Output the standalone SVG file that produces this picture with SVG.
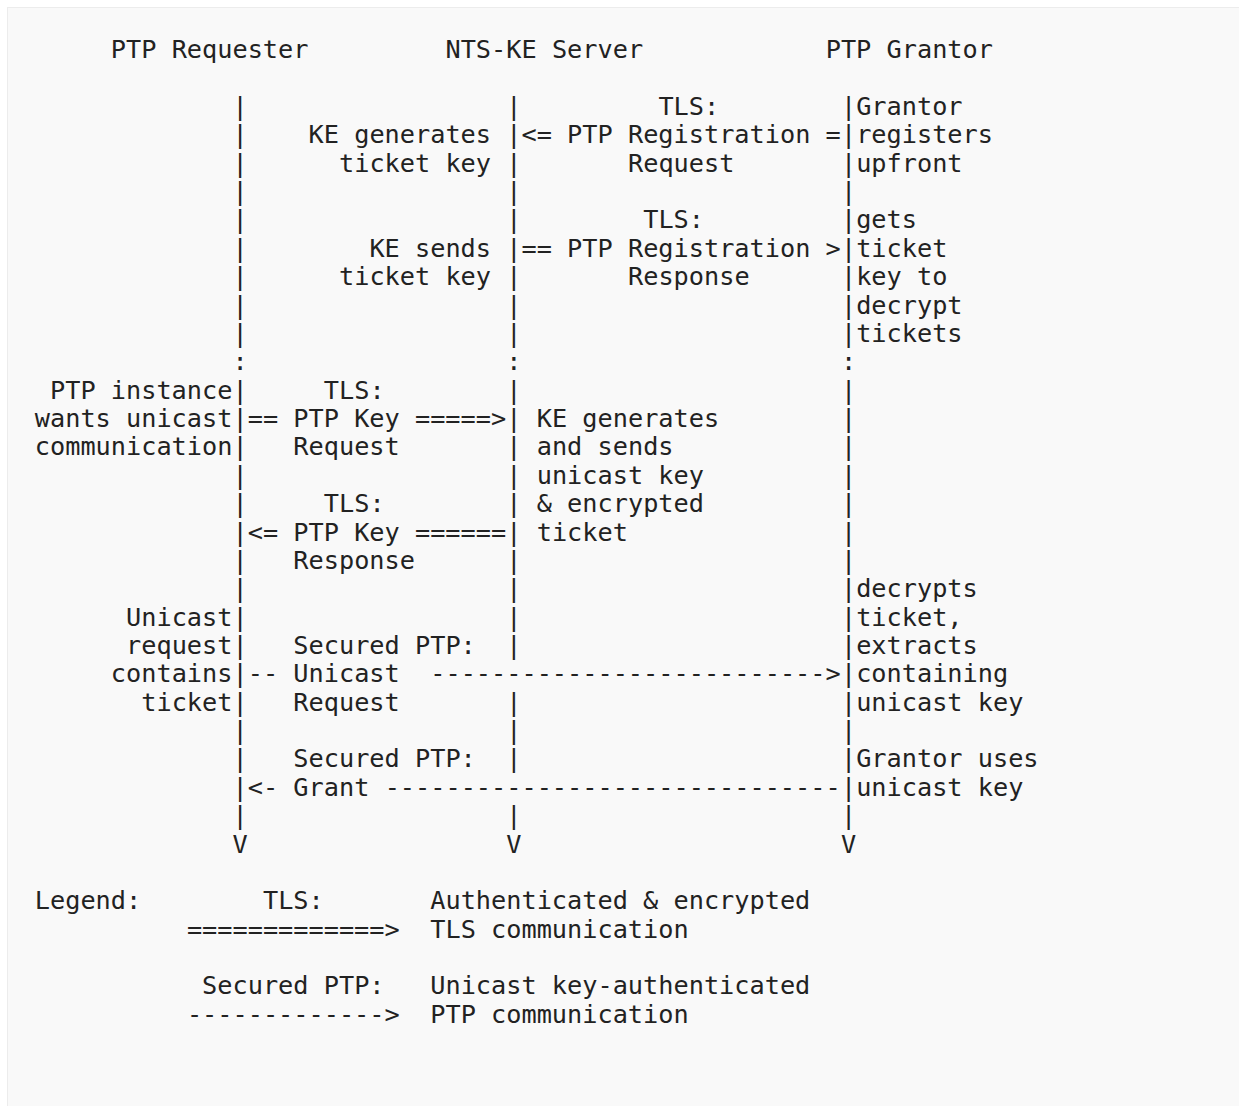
<svg xmlns="http://www.w3.org/2000/svg" width="1239" height="1106" viewBox="0 0 1239 1106">
<style>
text{font-family:"DejaVu Sans Mono","Liberation Mono",monospace;font-size:25.26px;fill:#222;}
</style>
<rect x="0" y="0" width="1239" height="1106" fill="#ffffff"/>
<rect x="7.5" y="7.5" width="1250" height="1120" fill="#f9f9f9" stroke="#ececec" stroke-width="1"/>

<g id="requester">
<text x="110.85" y="58.3">PTP Requester</text>
<text><tspan x="232.53" y="115.03">|</tspan><tspan x="232.53" y="143.40">|</tspan><tspan x="232.53" y="171.76">|</tspan><tspan x="232.53" y="200.13">|</tspan><tspan x="232.53" y="228.49">|</tspan><tspan x="232.53" y="256.86">|</tspan><tspan x="232.53" y="285.22">|</tspan><tspan x="232.53" y="313.59">|</tspan><tspan x="232.53" y="341.95">|</tspan><tspan x="232.53" y="370.32">:</tspan><tspan x="232.53" y="398.68">|</tspan><tspan x="232.53" y="427.05">|</tspan><tspan x="232.53" y="455.41">|</tspan><tspan x="232.53" y="483.78">|</tspan><tspan x="232.53" y="512.14">|</tspan><tspan x="232.53" y="540.51">|</tspan><tspan x="232.53" y="568.87">|</tspan><tspan x="232.53" y="597.24">|</tspan><tspan x="232.53" y="625.60">|</tspan><tspan x="232.53" y="653.97">|</tspan><tspan x="232.53" y="682.33">|</tspan><tspan x="232.53" y="710.70">|</tspan><tspan x="232.53" y="739.06">|</tspan><tspan x="232.53" y="767.43">|</tspan><tspan x="232.53" y="795.79">|</tspan><tspan x="232.53" y="824.16">|</tspan><tspan x="232.53" y="852.52">V</tspan></text>
<text x="50.01" y="398.68">PTP instance</text>
<text x="34.8" y="427.05">wants unicast</text>
<text x="34.8" y="455.41">communication</text>
<text x="126.06" y="625.60">Unicast</text>
<text x="126.06" y="653.97">request</text>
<text x="110.85" y="682.33">contains</text>
<text x="141.27" y="710.70">ticket</text>
</g>

<g id="server">
<text x="445.47" y="58.3">NTS-KE Server</text>
<text><tspan x="506.31" y="115.03">|</tspan><tspan x="506.31" y="143.40">|</tspan><tspan x="506.31" y="171.76">|</tspan><tspan x="506.31" y="200.13">|</tspan><tspan x="506.31" y="228.49">|</tspan><tspan x="506.31" y="256.86">|</tspan><tspan x="506.31" y="285.22">|</tspan><tspan x="506.31" y="313.59">|</tspan><tspan x="506.31" y="341.95">|</tspan><tspan x="506.31" y="370.32">:</tspan><tspan x="506.31" y="398.68">|</tspan><tspan x="506.31" y="427.05">|</tspan><tspan x="506.31" y="455.41">|</tspan><tspan x="506.31" y="483.78">|</tspan><tspan x="506.31" y="512.14">|</tspan><tspan x="506.31" y="540.51">|</tspan><tspan x="506.31" y="568.87">|</tspan><tspan x="506.31" y="597.24">|</tspan><tspan x="506.31" y="625.60">|</tspan><tspan x="506.31" y="653.97">|</tspan><tspan x="506.31" y="710.70">|</tspan><tspan x="506.31" y="739.06">|</tspan><tspan x="506.31" y="767.43">|</tspan><tspan x="506.31" y="824.16">|</tspan><tspan x="506.31" y="852.52">V</tspan></text>
<text x="308.58" y="143.40">KE generates</text>
<text x="339.0" y="171.76">ticket key</text>
<text x="369.42" y="256.86">KE sends</text>
<text x="339.0" y="285.22">ticket key</text>
<text x="536.73" y="427.05">KE generates</text>
<text x="536.73" y="455.41">and sends</text>
<text x="536.73" y="483.78">unicast key</text>
<text x="536.73" y="512.14">&amp; encrypted</text>
<text x="536.73" y="540.51">ticket</text>
</g>

<g id="grantor">
<text x="825.72" y="58.3">PTP Grantor</text>
<text><tspan x="840.93" y="115.03">|</tspan><tspan x="840.93" y="143.40">|</tspan><tspan x="840.93" y="171.76">|</tspan><tspan x="840.93" y="200.13">|</tspan><tspan x="840.93" y="228.49">|</tspan><tspan x="840.93" y="256.86">|</tspan><tspan x="840.93" y="285.22">|</tspan><tspan x="840.93" y="313.59">|</tspan><tspan x="840.93" y="341.95">|</tspan><tspan x="840.93" y="370.32">:</tspan><tspan x="840.93" y="398.68">|</tspan><tspan x="840.93" y="427.05">|</tspan><tspan x="840.93" y="455.41">|</tspan><tspan x="840.93" y="483.78">|</tspan><tspan x="840.93" y="512.14">|</tspan><tspan x="840.93" y="540.51">|</tspan><tspan x="840.93" y="568.87">|</tspan><tspan x="840.93" y="597.24">|</tspan><tspan x="840.93" y="625.60">|</tspan><tspan x="840.93" y="653.97">|</tspan><tspan x="840.93" y="682.33">|</tspan><tspan x="840.93" y="710.70">|</tspan><tspan x="840.93" y="739.06">|</tspan><tspan x="840.93" y="767.43">|</tspan><tspan x="840.93" y="795.79">|</tspan><tspan x="840.93" y="824.16">|</tspan><tspan x="840.93" y="852.52">V</tspan></text>
<text x="856.14" y="115.03">Grantor</text>
<text x="856.14" y="143.40">registers</text>
<text x="856.14" y="171.76">upfront</text>
<text x="856.14" y="228.49">gets</text>
<text x="856.14" y="256.86">ticket</text>
<text x="856.14" y="285.22">key to</text>
<text x="856.14" y="313.59">decrypt</text>
<text x="856.14" y="341.95">tickets</text>
<text x="856.14" y="597.24">decrypts</text>
<text x="856.14" y="625.60">ticket,</text>
<text x="856.14" y="653.97">extracts</text>
<text x="856.14" y="682.33">containing</text>
<text x="856.14" y="710.70">unicast key</text>
<text x="856.14" y="767.43">Grantor uses</text>
<text x="856.14" y="795.79">unicast key</text>
</g>

<g id="connectors">
<text x="658.41" y="115.03">TLS:</text>
<text x="521.52" y="143.40">&lt;= PTP Registration =</text>
<text x="627.99" y="171.76">Request</text>
<text x="643.2" y="228.49">TLS:</text>
<text x="521.52" y="256.86">== PTP Registration &gt;</text>
<text x="627.99" y="285.22">Response</text>
<text x="323.79" y="398.68">TLS:</text>
<text x="247.74" y="427.05">== PTP Key =====&gt;</text>
<text x="293.37" y="455.41">Request</text>
<text x="323.79" y="512.14">TLS:</text>
<text x="247.74" y="540.51">&lt;= PTP Key ======</text>
<text x="293.37" y="568.87">Response</text>
<text x="293.37" y="653.97">Secured PTP:</text>
<text x="247.74" y="682.33">-- Unicast</text>
<text x="430.26" y="682.33">--------------------------&gt;</text>
<text x="293.37" y="710.70">Request</text>
<text x="293.37" y="767.43">Secured PTP:</text>
<text x="247.74" y="795.79">&lt;- Grant</text>
<text x="384.63" y="795.79">------------------------------</text>
</g>

<g id="legend">
<text x="34.8" y="909.25">Legend:</text>
<text x="262.95" y="909.25">TLS:</text>
<text x="430.26" y="909.25">Authenticated &amp; encrypted</text>
<text x="186.9" y="937.62">=============&gt;</text>
<text x="430.26" y="937.62">TLS communication</text>
<text x="202.11" y="994.35">Secured PTP:</text>
<text x="430.26" y="994.35">Unicast key-authenticated</text>
<text x="186.9" y="1022.72">-------------&gt;</text>
<text x="430.26" y="1022.72">PTP communication</text>
</g>
</svg>
